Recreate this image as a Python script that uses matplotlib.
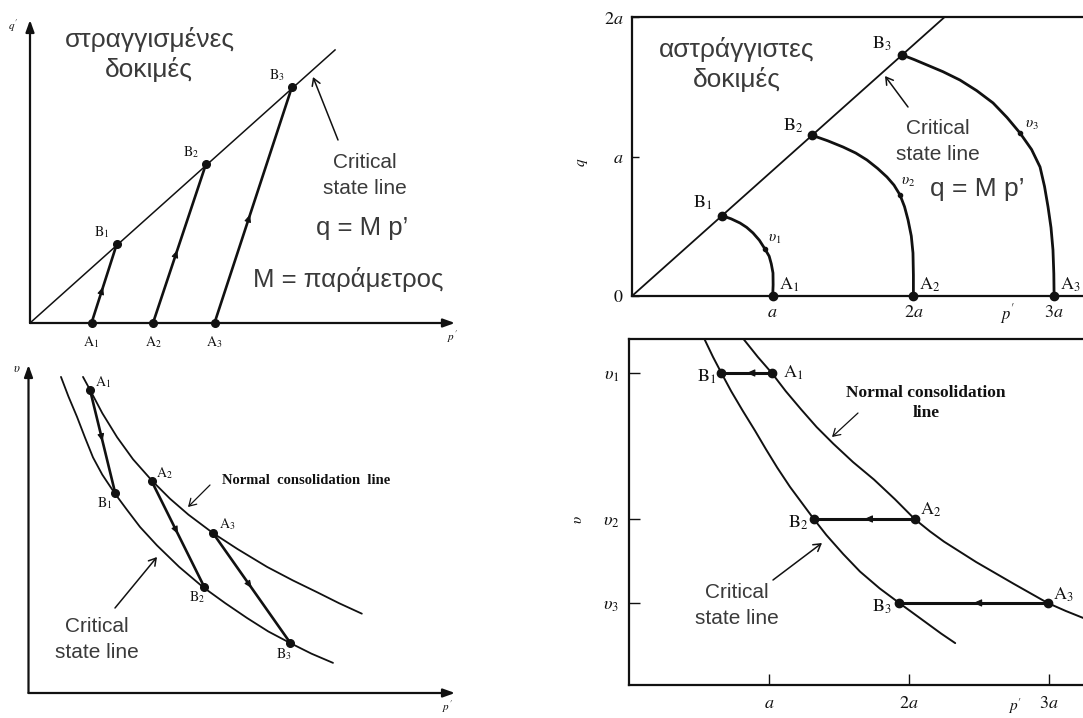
import matplotlib
matplotlib.use("Agg")
import matplotlib.pyplot as plt

plt.rcParams["mathtext.fontset"] = "stix"
plt.rcParams["font.family"] = ["Liberation Sans", "DejaVu Sans"]

W, H = 1083, 718
fig = plt.figure(figsize=(W / 100, H / 100), dpi=100)

INK = "#111111"
GREY_TXT = "#3a3a3a"
SERIF = ["Liberation Serif", "DejaVu Serif"]

# ---------------- drained tests: q'-p' ----------------
dr_A_p = [1.0, 2.0, 3.0]
dr_A_q = [0.0, 0.0, 0.0]
dr_B_p = [1.41, 2.86, 4.26]
dr_B_q = [1.28, 2.58, 3.84]
dr_csl_p = [0.0, 4.96]
dr_csl_q = [0.0, 4.44]

# ---------------- drained tests: v-p' ----------------
dr_ncl_p = [0.886, 1.0, 1.2, 1.44, 1.7, 2.01, 2.3, 2.6, 3.0, 3.4, 3.88, 4.3, 4.69, 5.05, 5.42]
dr_ncl_v = [5.14, 4.93, 4.55, 4.16, 3.80, 3.45, 3.16, 2.90, 2.60, 2.34, 2.05, 1.83, 1.64, 1.46, 1.29]
dr_csl_vp = [0.528, 0.65, 0.789, 0.92, 1.049, 1.2, 1.40, 1.6, 1.813, 2.089, 2.45, 2.84,
             3.2, 3.553, 3.9, 4.26, 4.6, 4.951]
dr_csl_v = [5.14, 4.82, 4.49, 4.15, 3.83, 3.55, 3.25, 2.98, 2.70, 2.40, 2.05, 1.72,
            1.46, 1.22, 1.00, 0.81, 0.64, 0.49]
dr_A_v = [4.93, 3.45, 2.60]
dr_B_v = [3.25, 1.72, 0.81]

# ---------------- undrained tests: q-p' ----------------
ud_csl_p = [0.0, 2.5]
ud_csl_q = [0.0, 2.25]
ud_path1_p = [1.000, 1.003, 1.002, 0.990, 0.975, 0.945, 0.905, 0.860, 0.815, 0.768, 0.705, 0.640]
ud_path1_q = [0.000, 0.080, 0.165, 0.230, 0.285, 0.337, 0.400, 0.452, 0.492, 0.523, 0.553, 0.576]
ud_path2_p = [2.000, 2.000, 1.997, 1.985, 1.962, 1.937, 1.905, 1.862, 1.812, 1.745, 1.670,
              1.590, 1.500, 1.390, 1.280]
ud_path2_q = [0.000, 0.150, 0.308, 0.430, 0.545, 0.640, 0.724, 0.795, 0.853, 0.915, 0.975,
              1.025, 1.068, 1.113, 1.152]
ud_path3_p = [3.000, 2.998, 2.992, 2.978, 2.957, 2.932, 2.900, 2.840, 2.758, 2.665, 2.566,
              2.450, 2.331, 2.210, 2.097, 2.005, 1.920]
ud_path3_q = [0.000, 0.160, 0.330, 0.490, 0.638, 0.785, 0.925, 1.050, 1.168, 1.280, 1.384,
              1.472, 1.548, 1.608, 1.656, 1.695, 1.728]
ud_vmark_index = [5, 6, 8]
ud_vmark_labels = [r"$\upsilon_1$", r"$\upsilon_2$", r"$\upsilon_3$"]
ud_xticks = [1, 2, 3]
ud_xticklabels = [r"$a$", r"$2a$", r"$3a$"]
ud_yticks = [0, 1, 2]
ud_yticklabels = [r"$0$", r"$a$", r"$2a$"]

# ---------------- undrained tests: v-p' ----------------
ud_ncl_p = [0.82, 0.92, 1.02, 1.12, 1.23, 1.34, 1.46, 1.60, 1.75, 1.90, 2.04, 2.15, 2.25,
            2.48, 2.75, 2.99, 3.12, 3.25, 3.40]
ud_ncl_v = [2.046, 2.022, 2.000, 1.975, 1.950, 1.926, 1.903, 1.878, 1.854, 1.827, 1.800,
            1.783, 1.769, 1.741, 1.711, 1.685, 1.674, 1.664, 1.652]
ud_csl_vp = [0.54, 0.60, 0.66, 0.73, 0.81, 0.90, 0.98, 1.06, 1.15, 1.235, 1.32, 1.41, 1.53,
             1.65, 1.79, 1.93, 2.03, 2.13, 2.23, 2.33]
ud_csl_v = [2.046, 2.022, 2.000, 1.975, 1.949, 1.921, 1.895, 1.870, 1.844, 1.822, 1.800,
            1.778, 1.752, 1.728, 1.705, 1.685, 1.671, 1.657, 1.643, 1.630]
ud_A_p = [1.02, 2.04, 2.99]
ud_B_p = [0.66, 1.32, 1.93]
ud_v = [2.000, 1.800, 1.685]
ud_vticklabels = [r"$\upsilon_1$", r"$\upsilon_2$", r"$\upsilon_3$"]

A_labels = [r"$\mathrm{A}_1$", r"$\mathrm{A}_2$", r"$\mathrm{A}_3$"]
B_labels = [r"$\mathrm{B}_1$", r"$\mathrm{B}_2$", r"$\mathrm{B}_3$"]


def box(x0, y0, x1, y1):
    """Axes from a pixel box (y measured downward)."""
    return fig.add_axes([x0 / W, 1 - y1 / H, (x1 - x0) / W, (y1 - y0) / H])


def ftext(px, py, s, **kw):
    fig.text(px / W, 1 - py / H, s, **kw)


def pointer(x0, y0, x1, y1, lw=1.1):
    fig.add_artist(matplotlib.patches.FancyArrowPatch(
        (x0, H - y0), (x1, H - y1), transform=None,
        arrowstyle="->,head_length=5,head_width=3", lw=lw, color=INK,
        shrinkA=0, shrinkB=0))


def mid_arrow(ax, pa, pb, frac=0.5, size=10):
    x = pa[0] + (pb[0] - pa[0]) * frac
    y = pa[1] + (pb[1] - pa[1]) * frac
    xs = pa[0] + (pb[0] - pa[0]) * (frac - 0.02)
    ys = pa[1] + (pb[1] - pa[1]) * (frac - 0.02)
    ax.annotate("", xy=(x, y), xytext=(xs, ys),
                arrowprops=dict(arrowstyle="-|>,head_length=0.45,head_width=0.2",
                                color=INK, lw=0.8, mutation_scale=size,
                                shrinkA=0, shrinkB=0))


def label(ax, x, y, s, dx, dy, size, **kw):
    ax.annotate(s, xy=(x, y), xytext=(dx, dy), textcoords="offset pixels",
                ha="center", va="center", fontsize=size, color=INK, **kw)


def arrow_axes(ax):
    for s in ax.spines.values():
        s.set_visible(False)
    ax.set_xticks([])
    ax.set_yticks([])
    ax.patch.set_alpha(0)
    kw = dict(arrowstyle="-|>,head_length=0.5,head_width=0.18", color=INK,
              lw=1.6, shrinkA=0, shrinkB=0, mutation_scale=14)
    ax.annotate("", xy=(1, 0), xytext=(0, 0), xycoords="axes fraction",
                arrowprops=kw, annotation_clip=False)
    ax.annotate("", xy=(0, 1), xytext=(0, 0), xycoords="axes fraction",
                arrowprops=kw, annotation_clip=False)


LINE_KW = dict(solid_capstyle="round", solid_joinstyle="round")

# ===================== top-left: drained q'-p' =====================
S = 61.5
ax1 = box(30, 20, 30 + 6.91 * S, 323)
ax1.set_xlim(0, 6.91)
ax1.set_ylim(0, 303 / S)
arrow_axes(ax1)
ax1.plot(dr_csl_p, dr_csl_q, color=INK, lw=1.1, clip_on=False)
for i in range(3):
    ax1.plot([dr_A_p[i], dr_B_p[i]], [dr_A_q[i], dr_B_q[i]], color=INK, lw=1.9,
             clip_on=False)
    mid_arrow(ax1, (dr_A_p[i], dr_A_q[i]), (dr_B_p[i], dr_B_q[i]), 0.46)
ax1.plot(dr_A_p, dr_A_q, "o", color=INK, ms=5.5, clip_on=False)
ax1.plot(dr_B_p, dr_B_q, "o", color=INK, ms=5.5, clip_on=False)
for i in range(3):
    label(ax1, dr_A_p[i], dr_A_q[i], A_labels[i], 0, -19, 10)
    label(ax1, dr_B_p[i], dr_B_q[i], B_labels[i], -15, 12, 10)

ftext(13, 26, r"$q'$", fontsize=8, ha="center", va="center", color=INK)
ftext(453, 337, r"$p'$", fontsize=8, ha="center", va="center", color=INK)
ftext(150, 40, "στραγγισμένες", fontsize=19, ha="center", va="center", color=GREY_TXT)
ftext(149, 70, "δοκιμές", fontsize=19, ha="center", va="center", color=GREY_TXT)
ftext(365, 162, "Critical", fontsize=15, ha="center", va="center", color=GREY_TXT)
ftext(365, 188, "state line", fontsize=15, ha="center", va="center", color=GREY_TXT)
ftext(362, 228, "q = M p’", fontsize=18.5, ha="center", va="center", color=GREY_TXT)
ftext(348, 280, "M = παράμετρος", fontsize=18.5, ha="center", va="center", color=GREY_TXT)
pointer(338, 140, 313, 77)

# ===================== bottom-left: drained v-p' =====================
ax2 = box(28.5, 365, 28.5 + 6.935 * S, 693)
ax2.set_xlim(0, 6.935)
ax2.set_ylim(0, 328 / S)
arrow_axes(ax2)
ax2.plot(dr_ncl_p, dr_ncl_v, color=INK, lw=1.3, **LINE_KW)
ax2.plot(dr_csl_vp, dr_csl_v, color=INK, lw=1.3, **LINE_KW)
for i in range(3):
    ax2.plot([dr_A_p[i], dr_B_p[i]], [dr_A_v[i], dr_B_v[i]], color=INK, lw=1.9)
    mid_arrow(ax2, (dr_A_p[i], dr_A_v[i]), (dr_B_p[i], dr_B_v[i]), 0.5)
ax2.plot(dr_A_p, dr_A_v, "o", color=INK, ms=5.5)
ax2.plot(dr_B_p, dr_B_v, "o", color=INK, ms=5.5)
for i, (dx, dy) in enumerate([(13, 8), (13, 8), (14, 9)]):
    label(ax2, dr_A_p[i], dr_A_v[i], A_labels[i], dx, dy, 10)
for i, (dx, dy) in enumerate([(-11, -10), (-7, -10), (-7, -11)]):
    label(ax2, dr_B_p[i], dr_B_v[i], B_labels[i], dx, dy, 10)

ftext(17, 369, r"$\upsilon$", fontsize=9, ha="center", va="center", color=INK)
ftext(448, 707, r"$p'$", fontsize=8, ha="center", va="center", color=INK)
ftext(306, 480, "Normal  consolidation  line", fontsize=10.5, ha="center",
      va="center", color=INK, family=SERIF, weight="bold")
pointer(210, 485, 188, 507, lw=0.9)
ftext(97, 627, "Critical", fontsize=15, ha="center", va="center", color=GREY_TXT)
ftext(97, 653, "state line", fontsize=15, ha="center", va="center", color=GREY_TXT)
pointer(115, 608, 157, 557)

# ===================== top-right: undrained q-p' =====================
SX = 140.7
ax3 = box(632, 17, 632 + 3.4 * SX, 296)
ax3.set_xlim(0, 3.4)
ax3.set_ylim(0, 2.0)
for s in ax3.spines.values():
    s.set_linewidth(1.6)
    s.set_color(INK)
ax3.set_xticks(ud_xticks)
ax3.set_xticklabels(ud_xticklabels, fontsize=13)
ax3.set_yticks(ud_yticks)
ax3.set_yticklabels(ud_yticklabels, fontsize=13)
ax3.tick_params(direction="in", length=0, pad=6, colors=INK)
ax3.tick_params(axis="y", length=5, width=1)
ax3.plot(ud_csl_p, ud_csl_q, color=INK, lw=1.3)
paths = [(ud_path1_p, ud_path1_q), (ud_path2_p, ud_path2_q), (ud_path3_p, ud_path3_q)]
for i, (pp, qq) in enumerate(paths):
    ax3.plot(pp, qq, color=INK, lw=2.0, **LINE_KW)
    k = ud_vmark_index[i]
    ax3.plot(pp[k], qq[k], "o", color=INK, ms=3)
    ax3.plot(pp[0], qq[0], "o", color=INK, ms=6, clip_on=False)
    ax3.plot(pp[-1], qq[-1], "o", color=INK, ms=6)
for i, (dx, dy) in enumerate([(10, 10), (8, 13), (12, 8)]):
    pp, qq = paths[i]
    k = ud_vmark_index[i]
    label(ax3, pp[k], qq[k], ud_vmark_labels[i], dx, dy, 11)
for i in range(3):
    pp, qq = paths[i]
    label(ax3, pp[0], qq[0], A_labels[i], 16, 11, 13)
for i, (dx, dy) in enumerate([(-19, 13), (-19, 9), (-20, 11)]):
    pp, qq = paths[i]
    label(ax3, pp[-1], qq[-1], B_labels[i], dx, dy, 13)

ftext(583, 162, r"$q$", fontsize=11, ha="center", va="center", color=INK, rotation=90)
ftext(1008, 314, r"$p'$", fontsize=12, ha="center", va="center", color=INK)
ftext(737, 50, "αστράγγιστες", fontsize=19, ha="center", va="center", color=GREY_TXT)
ftext(737, 80, "δοκιμές", fontsize=19, ha="center", va="center", color=GREY_TXT)
ftext(938, 128, "Critical", fontsize=15, ha="center", va="center", color=GREY_TXT)
ftext(938, 155, "state line", fontsize=15, ha="center", va="center", color=GREY_TXT)
ftext(977, 189, "q = M p’", fontsize=19, ha="center", va="center", color=GREY_TXT)
pointer(908, 107, 885, 76)

# ===================== bottom-right: undrained v-p' =====================
SX2 = 140.0
ax4 = box(629, 339, 629 + 3.4 * SX2, 685)
ax4.set_xlim(0, 3.4)
ax4.set_ylim(2.0 - 312 / 730, 2.0 + 34 / 730)
for s in ax4.spines.values():
    s.set_linewidth(1.6)
    s.set_color(INK)
ax4.set_xticks(ud_xticks)
ax4.set_xticklabels(ud_xticklabels, fontsize=13)
ax4.set_yticks(ud_v)
ax4.set_yticklabels(ud_vticklabels, fontsize=13)
ax4.tick_params(direction="in", length=8, width=1, pad=7, colors=INK)
ax4.plot(ud_ncl_p, ud_ncl_v, color=INK, lw=1.4, **LINE_KW)
ax4.plot(ud_csl_vp, ud_csl_v, color=INK, lw=1.4, **LINE_KW)
for i in range(3):
    ax4.plot([ud_A_p[i], ud_B_p[i]], [ud_v[i], ud_v[i]], color=INK, lw=2.2)
    mid_arrow(ax4, (ud_A_p[i], ud_v[i]), (ud_B_p[i], ud_v[i]), 0.5, 11)
ax4.plot(ud_A_p, ud_v, "o", color=INK, ms=6)
ax4.plot(ud_B_p, ud_v, "o", color=INK, ms=6)
for i, (dx, dy) in enumerate([(21, 0), (16, 9), (16, 8)]):
    label(ax4, ud_A_p[i], ud_v[i], A_labels[i], dx, dy, 13)
for i, (dx, dy) in enumerate([(-15, -4), (-16, -4), (-17, -4)]):
    label(ax4, ud_B_p[i], ud_v[i], B_labels[i], dx, dy, 13)

ftext(578, 520, r"$\upsilon$", fontsize=11, ha="center", va="center", color=INK, rotation=90)
ftext(1015, 706, r"$p'$", fontsize=11, ha="center", va="center", color=INK)
ftext(926, 393, "Normal consolidation", fontsize=12.5, ha="center", va="center",
      color=INK, family=SERIF, weight="bold")
ftext(926, 413, "line", fontsize=12.5, ha="center", va="center",
      color=INK, family=SERIF, weight="bold")
pointer(858, 413, 832, 437, lw=0.9)
ftext(737, 593, "Critical", fontsize=15, ha="center", va="center", color=GREY_TXT)
ftext(737, 619, "state line", fontsize=15, ha="center", va="center", color=GREY_TXT)
pointer(773, 580, 822, 543)

fig.savefig("out.png", dpi=100)
